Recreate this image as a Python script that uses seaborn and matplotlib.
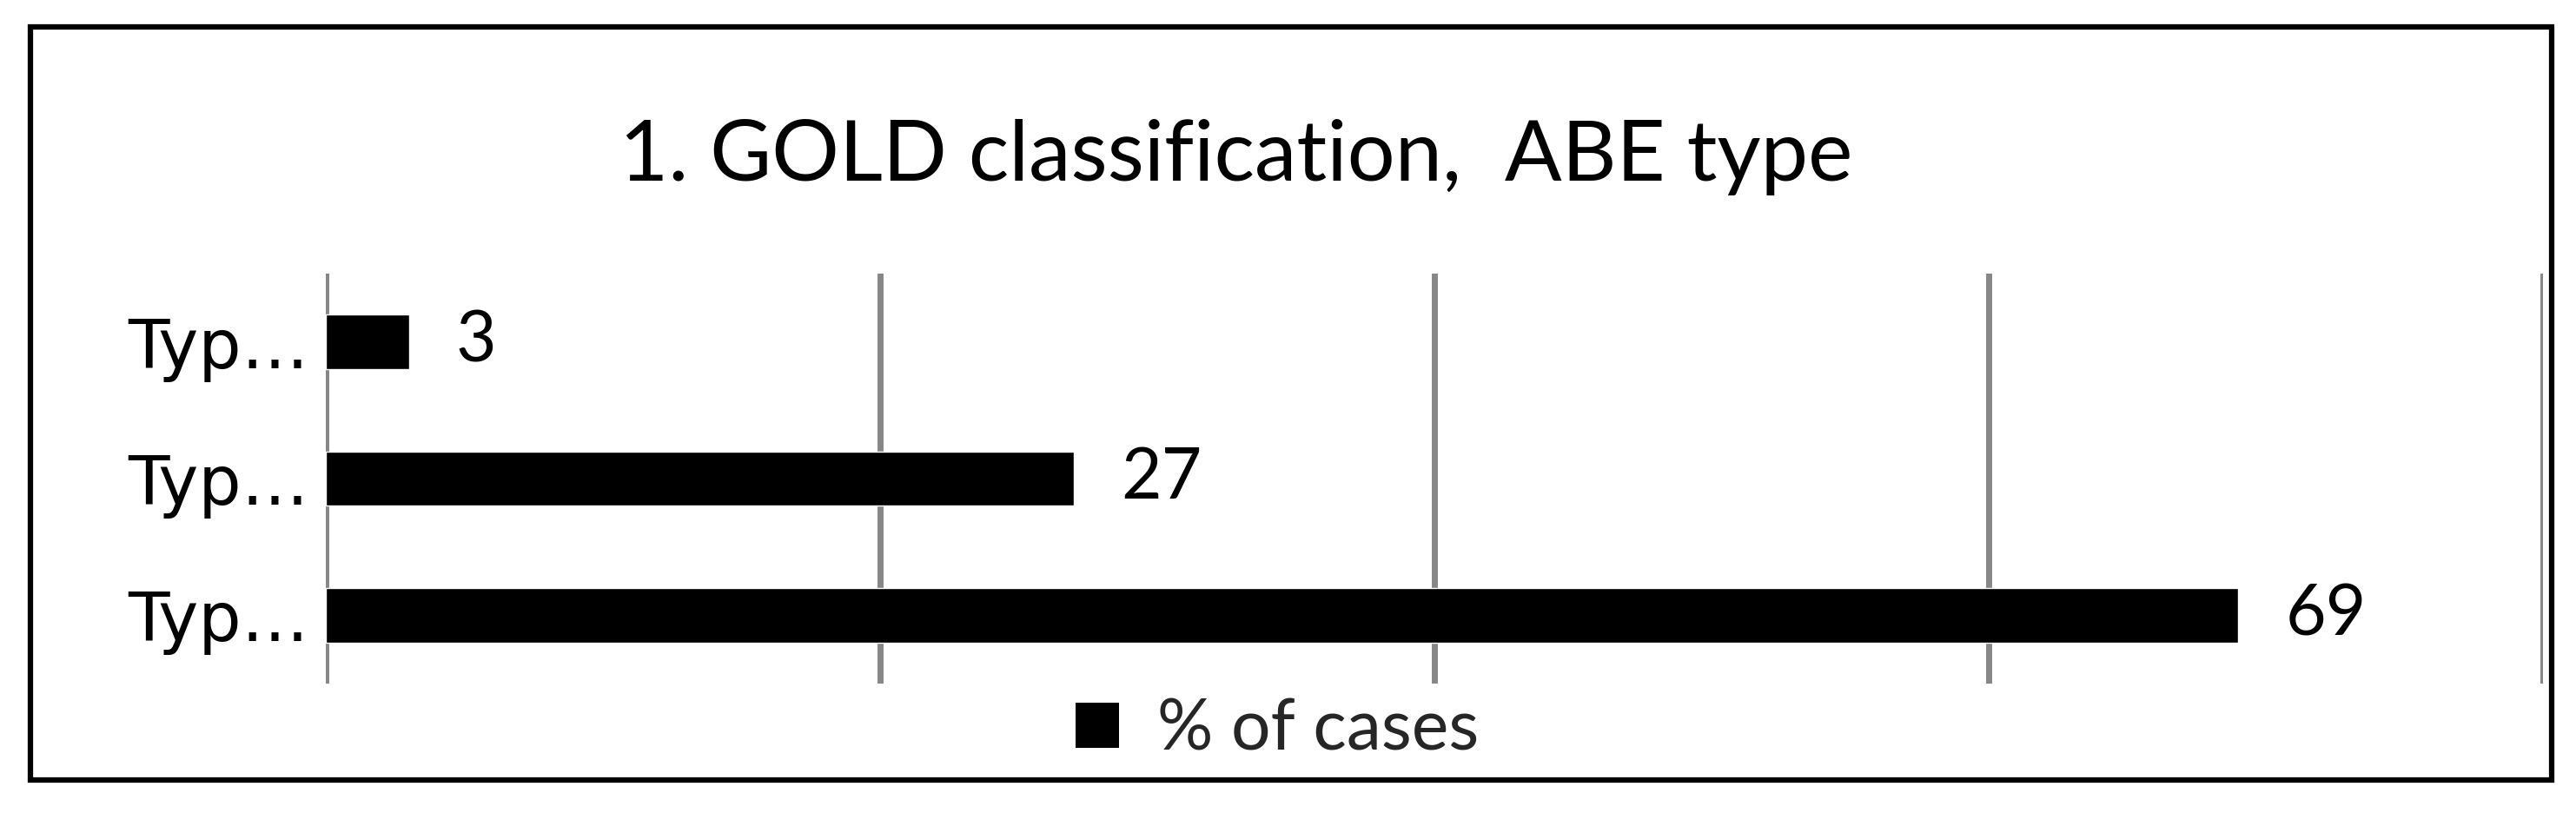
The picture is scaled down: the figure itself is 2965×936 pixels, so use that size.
import matplotlib
matplotlib.use("Agg")
import matplotlib.pyplot as plt
import matplotlib.patches as mpatches
import pandas as pd
import seaborn as sns

# data (top to bottom as drawn)
categories = ["Type E", "Type B", "Type A"]
tick_labels = ["Typ…", "Typ…", "Typ…"]
pct_cases = [3, 27, 69]
series_name = "% of cases"
title = "1. GOLD classification,  ABE type"

df = pd.DataFrame({"category": categories, "value": pct_cases})

sns.set_theme(style="white")
plt.rcParams["font.family"] = ["Lato", "DejaVu Sans"]

W, H = 2965, 936
fig = plt.figure(figsize=(W / 100, H / 100), dpi=100)
ax = fig.add_axes([375 / W, 1 - 787 / H, (2927 - 375) / W, (787 - 315) / H])

sns.barplot(data=df, x="value", y="category", order=categories, color="black",
            width=0.4, saturation=1, ax=ax, zorder=3)

ax.set_xlim(0, 80)
ax.set_ylim(2.5, -0.5)
ax.set_xticks([0, 20, 40, 60, 80])
ax.set_xticklabels([])
ax.xaxis.grid(True, color="#878787", linewidth=5, zorder=0)
ax.set_axisbelow(True)
for s in ax.spines.values():
    s.set_visible(False)
ax.tick_params(axis="both", length=0)
ax.tick_params(axis="y", pad=14)
ax.set_yticks(range(len(categories)))
ax.set_yticklabels(tick_labels, fontsize=56, family="DejaVu Sans", color="black")
ax.set_xlabel("")
ax.set_ylabel("")

ax.bar_label(ax.containers[0], labels=[str(v) for v in pct_cases],
             padding=39, fontsize=58, color="black")

fig.text(1423 / W, 1 - 208 / H, title, ha="center", va="baseline",
         fontsize=70, color="black")

handle = mpatches.Patch(facecolor="black", edgecolor="none", label=series_name)
fig.legend(handles=[handle], loc="center", bbox_to_anchor=(1470 / W, 1 - 840 / H),
           frameon=False, fontsize=58, handlelength=0.62, handleheight=0.62,
           handletextpad=0.55, borderpad=0, borderaxespad=0)

# outer chart border
border = mpatches.Rectangle((35 / W, 38 / H), (2937 - 35) / W, (905 - 38) / H,
                            transform=fig.transFigure, fill=False,
                            edgecolor="black", linewidth=4.5)
fig.patches.append(border)

fig.savefig("out.png", dpi=100, facecolor="white")
